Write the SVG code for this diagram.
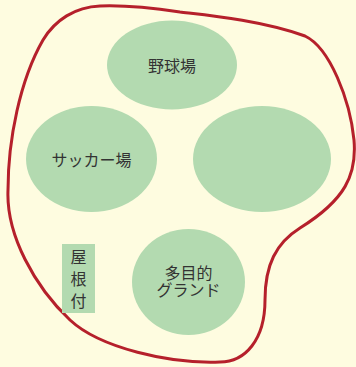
<svg xmlns="http://www.w3.org/2000/svg" width="356" height="367" viewBox="0 0 356 367">
<style>
.bg{fill:#fefce0}
.area{fill:#b3dab0;stroke:none}
.border{fill:none;stroke:#b5202b;stroke-width:3;stroke-linejoin:round}
.lbl{font-family:"Noto Sans CJK JP","Noto Sans",sans-serif;font-size:16px;fill:#333333;text-anchor:middle;dominant-baseline:central}
</style>
<rect class="bg" x="0" y="0" width="356" height="367"/>
<g id="connectors">
<path id="boundary" class="border" d="M100,6 C125,5 160,9 180,12 C205,15 260,20 305,36 C330,48 350,100 354,140 C357,175 345,200 300,228 C276,243 265,265 265,300 C265,340 245,362 220,362 C170,364 100,348 70,320 C35,287 6,235 8,190 C8,140 20,80 43,40 C55,20 75,7 100,6 Z"/>
</g>
<g id="baseball">
<ellipse class="area" cx="172" cy="65" rx="65" ry="44.5"/>
<text class="lbl" x="172" y="65">野球場</text>
</g>
<g id="soccer">
<ellipse class="area" cx="91.5" cy="159" rx="65.5" ry="53"/>
<text class="lbl" x="91.5" y="159">サッカー場</text>
</g>
<g id="unnamed">
<ellipse class="area" cx="262" cy="159" rx="69" ry="53"/>
</g>
<g id="multipurpose">
<ellipse class="area" cx="188.5" cy="282" rx="56.5" ry="53"/>
<text class="lbl" x="188.5" y="272">多目的</text>
<text class="lbl" x="188.5" y="289">グランド</text>
</g>
<g id="roofed">
<rect class="area" x="62" y="244" width="33" height="69"/>
<text class="lbl" x="78.5" y="256">屋</text>
<text class="lbl" x="78.5" y="278">根</text>
<text class="lbl" x="78.5" y="300">付</text>
</g>
</svg>
